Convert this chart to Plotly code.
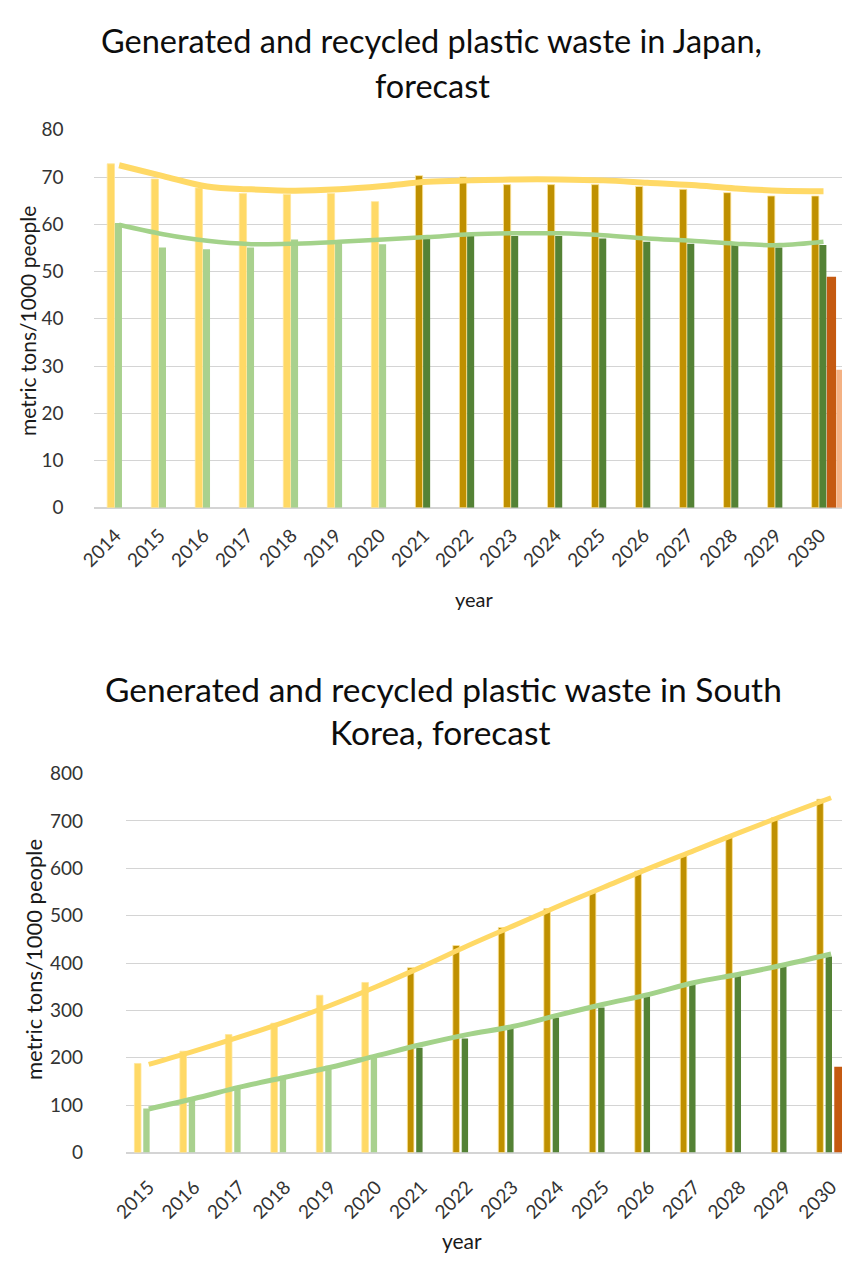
import plotly.graph_objects as go

# ---------------- data ----------------
jp_years = list(range(2014, 2031))
jp_generated = [72.8, 69.6, 67.7, 66.5, 66.3, 66.5, 64.8, 70.3, 70.0, 68.4,
                68.4, 68.4, 68.0, 67.4, 66.7, 66.0, 66.0]
jp_recycled = [60.3, 55.1, 54.7, 55.1, 56.8, 56.1, 55.8, 57.0, 57.5, 57.5,
               57.5, 57.0, 56.3, 55.9, 55.6, 55.1, 55.6]
jp_gen_trend = [72.5, 70.2, 68.0, 67.4, 67.1, 67.4, 68.1, 69.0, 69.3, 69.5,
                69.5, 69.3, 68.8, 68.3, 67.6, 67.1, 67.0]
jp_rec_trend = [59.9, 57.9, 56.5, 55.8, 55.9, 56.3, 56.8, 57.3, 57.9, 58.1,
                58.1, 57.7, 57.0, 56.5, 55.9, 55.6, 56.3]
jp_extra_years = [2030]
jp_extra_a = [48.9]
jp_extra_b = [29.2]

kr_years = list(range(2015, 2031))
kr_generated = [188, 214, 249, 273, 332, 359, 390, 437, 475, 515, 551, 594,
                629, 669, 707, 746]
kr_recycled = [93, 117, 136, 162, 183, 200, 221, 241, 263, 285, 306, 330,
               356, 373, 397, 414]
kr_gen_trend = [186, 214, 244, 276, 311, 350, 392, 436, 478, 520, 560, 600,
                638, 676, 713, 749]
kr_rec_trend = [92, 114, 138, 159, 180, 204, 228, 249, 266, 290, 313, 334,
                359, 377, 397, 419]
kr_extra_years = [2030]
kr_extra_a = [181]

last_actual_year = 2020

# ---------------- styling ----------------
W, H = 842, 1263
FONT = "Lato, 'Open Sans', sans-serif"
YEL_LIGHT = "#FFD966"
YEL_DARK = "#BF9000"
GRN_LIGHT = "#A9D18E"
GRN_DARK = "#548235"
ORANGE = "#C55A11"
PEACH = "#F4B183"
GRID = "#D4D4D4"
TXT = "#1A1A1A"
TICK = "#333333"


def py(px):
    """pixel row -> paper y"""
    return 1 - px / H


def px_x(px):
    return px / W


def colours(years, light, dark):
    return [light if y <= last_actual_year else dark for y in years]


fig = go.Figure()

# ---- Japan ----
fig.add_trace(go.Bar(x=jp_years, y=jp_generated, offset=-0.19, width=0.165,
                     marker=dict(color=colours(jp_years, YEL_LIGHT, YEL_DARK),
                                 line=dict(color="#FFE699", width=0.8)),
                     xaxis="x", yaxis="y", name="generated"))
fig.add_trace(go.Bar(x=jp_years, y=jp_recycled, offset=-0.015, width=0.16,
                     marker=dict(color=colours(jp_years, GRN_LIGHT, GRN_DARK),
                                 line=dict(width=0)),
                     xaxis="x", yaxis="y", name="recycled"))
fig.add_trace(go.Bar(x=jp_extra_years, y=jp_extra_a, offset=0.155, width=0.21,
                     marker=dict(color=ORANGE, line=dict(width=0)),
                     xaxis="x", yaxis="y", name="2030 A"))
fig.add_trace(go.Bar(x=jp_extra_years, y=jp_extra_b, offset=0.37, width=0.21,
                     marker=dict(color=PEACH, line=dict(width=0)),
                     xaxis="x", yaxis="y", name="2030 B"))
fig.add_trace(go.Scatter(x=[y + 0.08 for y in jp_years], y=jp_gen_trend,
                         mode="lines", line=dict(color=YEL_LIGHT, width=6, shape="spline"),
                         xaxis="x", yaxis="y", name="generated trend"))
fig.add_trace(go.Scatter(x=[y + 0.08 for y in jp_years], y=jp_rec_trend,
                         mode="lines", line=dict(color="#A3D28A", width=4.5, shape="spline"),
                         xaxis="x", yaxis="y", name="recycled trend"))

# ---- South Korea ----
fig.add_trace(go.Bar(x=kr_years, y=kr_generated, offset=-0.315, width=0.145,
                     marker=dict(color=colours(kr_years, YEL_LIGHT, YEL_DARK),
                                 line=dict(color="#FFE699", width=0.8)),
                     xaxis="x2", yaxis="y2", name="generated"))
fig.add_trace(go.Bar(x=kr_years, y=kr_recycled, offset=-0.12, width=0.14,
                     marker=dict(color=colours(kr_years, GRN_LIGHT, GRN_DARK),
                                 line=dict(width=0)),
                     xaxis="x2", yaxis="y2", name="recycled"))
fig.add_trace(go.Bar(x=kr_extra_years, y=kr_extra_a, offset=0.07, width=0.19,
                     marker=dict(color=ORANGE, line=dict(width=0)),
                     xaxis="x2", yaxis="y2", name="2030 A"))
fig.add_trace(go.Scatter(x=kr_years, y=kr_gen_trend,
                         mode="lines", line=dict(color=YEL_LIGHT, width=5, shape="spline"),
                         xaxis="x2", yaxis="y2", name="generated trend"))
fig.add_trace(go.Scatter(x=kr_years, y=kr_rec_trend,
                         mode="lines", line=dict(color="#A3D28A", width=5, shape="spline"),
                         xaxis="x2", yaxis="y2", name="recycled trend"))

axis_common = dict(showline=False, ticks="", tickfont=dict(family=FONT, size=19, color=TICK))

fig.update_layout(
    width=W, height=H,
    margin=dict(l=0, r=0, t=0, b=0),
    paper_bgcolor="white", plot_bgcolor="white",
    showlegend=False, barmode="overlay",
    font=dict(family=FONT, color=TXT),
    xaxis=dict(domain=[px_x(80), 1], range=[2013.5, 2030.5], anchor="y",
               tickmode="array", tickvals=jp_years, ticktext=[str(y) for y in jp_years],
               tickangle=-45, showgrid=False, zeroline=False,
               ticklabelstandoff=12, **axis_common),
    yaxis=dict(domain=[py(505), py(120)], range=[0, 80], anchor="x",
               tickmode="array", tickvals=list(range(0, 81, 10)),
               showgrid=True, gridcolor=GRID, gridwidth=1,
               zeroline=True, zerolinecolor=GRID, zerolinewidth=1.5,
               ticklabelstandoff=29, **axis_common),
    xaxis2=dict(domain=[px_x(113), 1], range=[2014.5, 2030.24], anchor="y2",
                tickmode="array", tickvals=kr_years, ticktext=[str(y) for y in kr_years],
                tickangle=-45, showgrid=False, zeroline=False,
                ticklabelstandoff=19, **axis_common),
    yaxis2=dict(domain=[py(1161.7), py(775.7)], range=[0, 800], anchor="x2",
                tickmode="array", tickvals=list(range(0, 801, 100)),
                showgrid=True, gridcolor=GRID, gridwidth=1,
                zeroline=True, zerolinecolor=GRID, zerolinewidth=1.5,
                ticklabelstandoff=42, **axis_common),
)

TITLE_C = "#0D0D0D"
ann = []
# chart titles
ann.append(dict(text="Generated and recycled plastic waste in Japan,", x=px_x(424), y=py(29),
                font=dict(size=32.5, color=TITLE_C)))
ann.append(dict(text="forecast", x=px_x(425), y=py(75), font=dict(size=32.5, color=TITLE_C)))
ann.append(dict(text="Generated and recycled plastic waste in South", x=px_x(436), y=py(690),
                font=dict(size=33.5, color=TITLE_C)))
ann.append(dict(text="Korea, forecast", x=px_x(433), y=py(733), font=dict(size=33.5, color=TITLE_C)))
# axis titles
ann.append(dict(text="metric tons/1000 people", x=px_x(12), y=py(315), textangle=-90,
                font=dict(size=21, color=TXT)))
ann.append(dict(text="year", x=px_x(468), y=py(598), font=dict(size=20, color=TXT)))
ann.append(dict(text="metric tons/1000 people", x=px_x(19), y=py(965), textangle=-90,
                font=dict(size=22, color=TXT)))
ann.append(dict(text="year", x=px_x(455), y=py(1251), font=dict(size=21, color=TXT)))

for a in ann:
    a.update(xref="paper", yref="paper", showarrow=False, xanchor="center", yanchor="middle")
    a["font"]["family"] = FONT
fig.update_layout(annotations=ann)

fig.write_html("out.html")
